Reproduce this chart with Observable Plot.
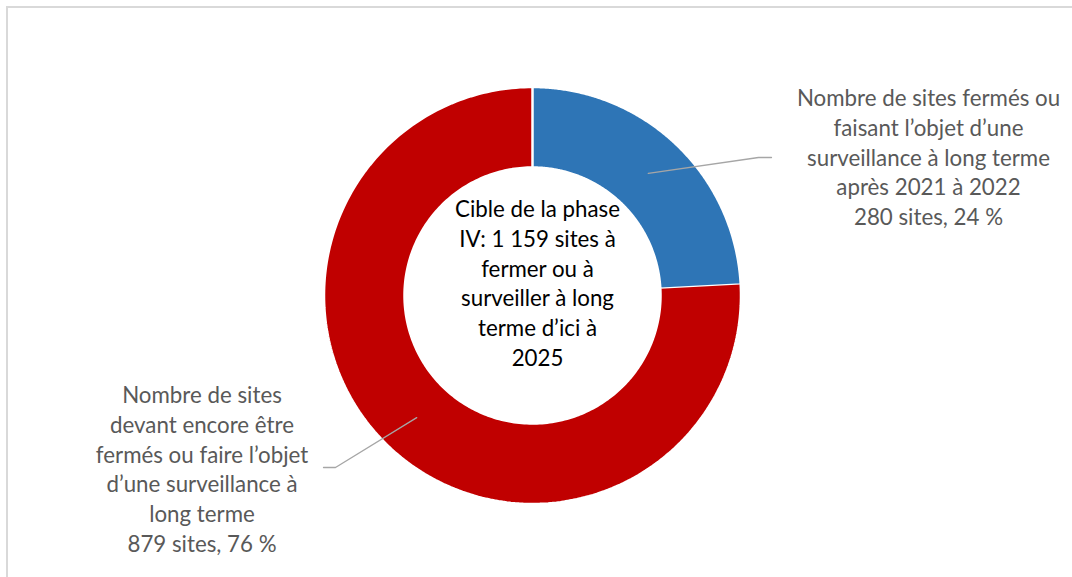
<!DOCTYPE html>
<html>
<head>
<meta charset="utf-8">
<script src="https://cdn.jsdelivr.net/npm/d3@7"></script>
<script src="https://cdn.jsdelivr.net/npm/@observablehq/plot@0.6"></script>
<style>
  html, body { margin: 0; padding: 0; background: #fff; }
  #chart { width: 1072px; height: 577px; }
</style>
</head>
<body>
<div id="chart"></div>
<script>
// ---- data ----
const categories = [
  "Nombre de sites fermés ou\nfaisant l’objet d’une\nsurveillance à long terme\naprès 2021 à 2022",
  "Nombre de sites\ndevant encore être\nfermés ou faire l’objet\nd’une surveillance à\nlong terme"
];
const values = [280, 879];
const percents = ["24 %", "76 %"];
const colors = ["#2E75B6", "#C00000"];
const centerLabel = "Cible de la phase\nIV: 1 159 sites à\nfermer ou à\nsurveiller à long\nterme d’ici à\n2025";

// ---- layout ----
const W = 1072, H = 577;
const cx = 532, cy = 295, rOuter = 208.5, rInner = 128;
const labelAnchors = [
  {x: 928, y: 157, ty: 155.5, elbowFar: 771, elbowNear: 758},
  {x: 201.5, y: 467, ty: 467.5, elbowFar: 323, elbowNear: 335}
];

const pie = d3.pie().sort(null).value(d => d)(values);
const pt = (r, a) => ({x: cx + r * Math.sin(a), y: cy - r * Math.cos(a)});

// slice polygons
const slicePts = [];
pie.forEach((p, i) => {
  const n = 240;
  for (let k = 0; k <= n; k++) {
    const a = p.startAngle + (p.endAngle - p.startAngle) * k / n;
    slicePts.push({...pt(rOuter, a), i});
  }
  for (let k = n; k >= 0; k--) {
    const a = p.startAngle + (p.endAngle - p.startAngle) * k / n;
    slicePts.push({...pt(rInner, a), i});
  }
});

// leader lines
const leaderPts = [];
const labels = [];
pie.forEach((p, i) => {
  const mid = (p.startAngle + p.endAngle) / 2;
  const s = pt((rOuter + rInner) / 2, mid);
  const L = labelAnchors[i];
  leaderPts.push({...s, i});
  leaderPts.push({x: L.elbowNear, y: L.y, i});
  leaderPts.push({x: L.elbowFar, y: L.y, i});
  labels.push({x: L.x, y: L.ty, text: categories[i] + "\n" + values[i] + " sites, " + percents[i]});
});

const font = "Lato, 'Open Sans', sans-serif";

const plot = Plot.plot({
  width: W, height: H,
  margin: 0,
  x: {domain: [0, W], axis: null},
  y: {domain: [H, 0], axis: null},
  style: {fontFamily: font, background: "#fff"},
  marks: [
    Plot.line(slicePts, {x: "x", y: "y", z: "i", fill: d => colors[d.i], stroke: "#fff", strokeWidth: 2.5, strokeLinejoin: "miter"}),
    Plot.line(leaderPts, {x: "x", y: "y", z: "i", stroke: "#A6A6A6", strokeWidth: 1.3}),
    Plot.text(labels, {x: "x", y: "y", text: "text", fill: "#595959", fontSize: 22.3, lineHeight: 1.33, lineAnchor: "middle", textAnchor: "middle"}),
    Plot.text([centerLabel], {x: () => 537, y: () => 281.5, text: d => d, fill: "#000", fontSize: 22.3, lineHeight: 1.33, lineAnchor: "middle", textAnchor: "middle"})
  ]
});

// chart-area border (decorative)
const svg = d3.select(plot);
svg.insert("rect", ":first-child")
  .attr("x", 7).attr("y", 7).attr("width", W + 10).attr("height", H + 10)
  .attr("fill", "none").attr("stroke", "#D9D9D9").attr("stroke-width", 2);

document.getElementById("chart").appendChild(plot);
</script>
</body>
</html>
